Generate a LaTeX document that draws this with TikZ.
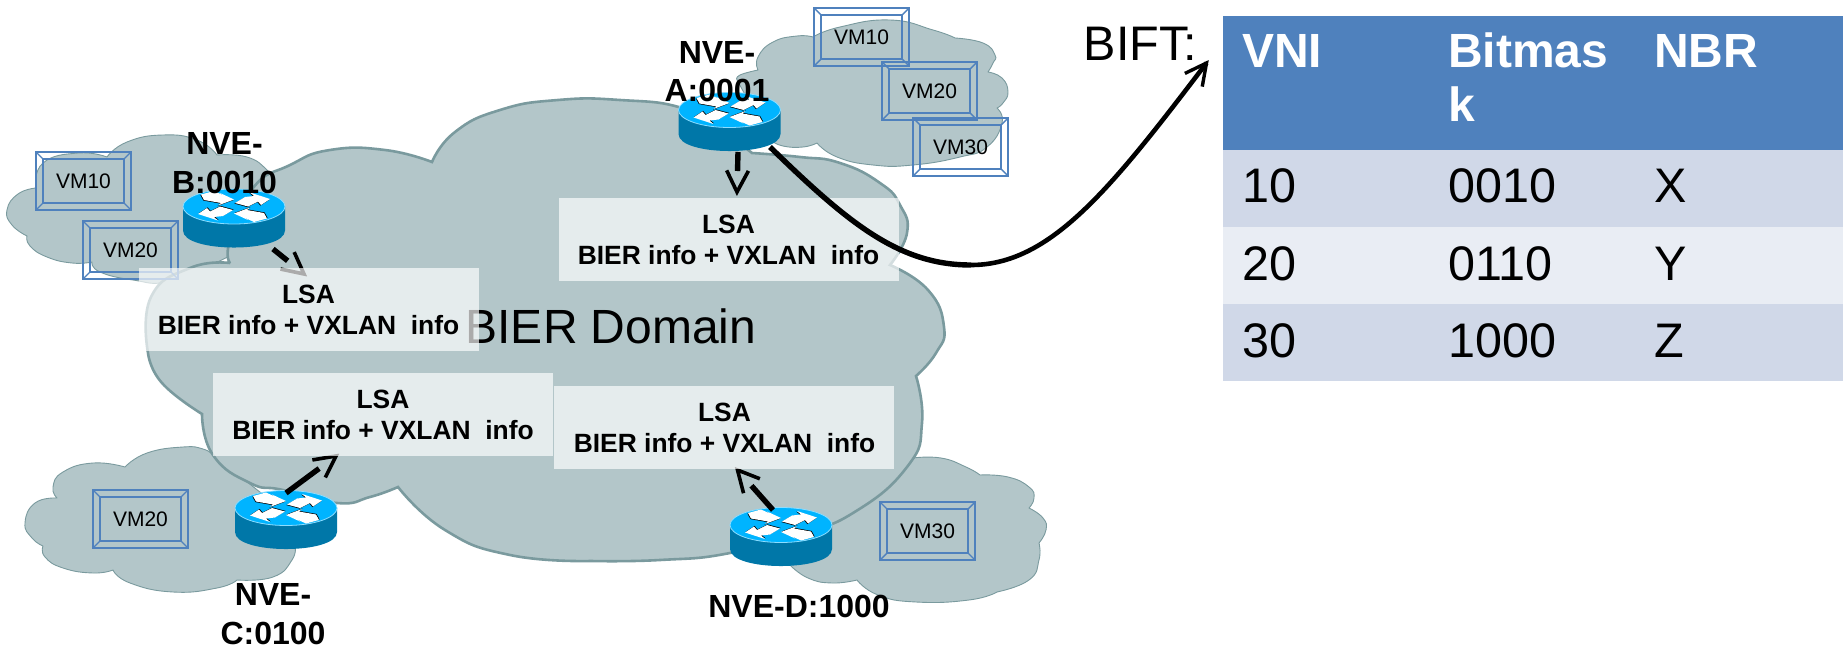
\documentclass[tikz,border=0pt]{standalone}
\usepackage{fontspec}
\setmainfont{Liberation Sans}
\usetikzlibrary{calc}
\definecolor{cloudfill}{HTML}{B3C6C9}
\definecolor{cloudline}{HTML}{7A9A9E}
\definecolor{vmline}{HTML}{4F81BD}
\definecolor{rtop}{HTML}{00B4FF}
\definecolor{rside}{HTML}{0077A8}
\definecolor{thead}{HTML}{4F81BD}
\definecolor{trowa}{HTML}{D0D8E8}
\definecolor{trowb}{HTML}{E9EDF4}
\newcommand\lsaarrow[2]{%
  \draw[shaftline,shorten >=21pt] (#1) -- (#2);
  \draw[headline] ($(#2)!24pt!27:(#1)$) -- (#2) -- ($(#2)!24pt!-27:(#1)$);}
\tikzset{
  lobe/.style={smooth,tension=.85},
  smallcloud/.style={fill=cloudfill,draw=cloudline,line width=.9pt,line join=round},
  bigcloud/.style={fill=cloudfill,draw=cloudline,line width=2.6pt,miter limit=2},
  vmtext/.style={font=\fontsize{21}{25}\selectfont,text=black,inner sep=0pt},
  lsabox/.style={fill=white,fill opacity=.67,text opacity=1,minimum width=340pt,minimum height=83pt,inner sep=0pt},
  lsatext/.style={font=\bfseries\fontsize{26.4}{31}\selectfont,align=center,anchor=base,inner sep=0pt},
  nvetext/.style={font=\bfseries\fontsize{32}{38.7}\selectfont,align=center,anchor=base,inner sep=0pt},
  shaftline/.style={line width=5.4pt},
  headline/.style={line width=3.6pt,miter limit=10},
  cell/.style={font=\fontsize{48.5}{54}\selectfont,anchor=base west,inner sep=0pt,align=left},
  hcell/.style={font=\bfseries\fontsize{48}{54}\selectfont,text=white,anchor=base west,inner sep=0pt,align=left},
  rowbox/.style={anchor=north west,minimum width=620pt,inner sep=0pt,fill=#1},
  router/.pic={
    \fill[rside] (-51,0) -- (-51,24) .. controls (-51,46.7) and (51,46.7) .. (51,24) -- (51,0) -- cycle;
    \fill[rtop,draw=white!55!rtop,line width=.8pt] (0,0) ellipse [x radius=51,y radius=17.5];
    \foreach \s in {1,-1}{
      \begin{scope}[xscale=\s,yscale=\s]
        \foreach \c/\o in {black/.6,white/0}{
          \fill[\c,shift={(-\o,\o)}] (-33,-12) -- (-20,-15.5) -- (-9,-10.5) -- (-14,-13.5) -- (0,-7) -- (-16,-1) -- (-13,-3.5) -- (-30,-6.5) -- cycle;
          \fill[\c,shift={(-\o,\o)}] (1,-3.5) -- (14,0) -- (24,-5) -- (27,-1.5) -- (36,-7.5) -- (16,-14) -- (20,-10.5) -- (11,-9.5) -- cycle;
        }
      \end{scope}
    }
  }
}
\begin{document}
\begin{tikzpicture}[x=1pt,y=-1pt]
\useasboundingbox (0,0) rectangle (1843,647);

% small clouds
\path[smallcloud] plot[lobe] coordinates {(36,188) (18,194) (7,210) (12,225) (27,236)}
  -- plot[lobe] coordinates {(27,236) (30,246) (47,257) (72,263) (92,262)}
  -- plot[lobe] coordinates {(92,262) (100,272) (133,280) (167,282) (207,267) (240,250)}
  -- (285,230)
  -- plot[lobe] coordinates {(272,180) (267,170) (247,157) (217,155)}
  -- plot[lobe] coordinates {(217,155) (197,140) (163,135) (127,142) (107,157)}
  -- plot[lobe] coordinates {(107,157) (78,153) (43,163) (36,188)} -- cycle;
\path[smallcloud] plot[lobe] coordinates {(737,80) (740,75) (758,70)}
  -- plot[lobe] coordinates {(758,70) (758,57) (773,42) (797,36) (813,37)}
  -- plot[lobe] coordinates {(813,37) (840,27) (890,20) (933,30) (955,38)}
  -- plot[lobe] coordinates {(955,38) (983,43) (995,55) (993,63) (988,72)}
  -- plot[lobe] coordinates {(988,72) (1002,78) (1008,92) (1003,103) (997,108)}
  -- plot[lobe] coordinates {(997,108) (1002,123) (987,147) (960,157) (913,165) (873,165) (837,157) (817,143)}
  -- plot[lobe] coordinates {(817,143) (803,147) (783,146) (770,140)} -- cycle;
\path[smallcloud] plot[lobe] coordinates {(57,498) (35,503) (25,523) (32,538) (43,546)}
  -- plot[lobe] coordinates {(43,546) (45,557) (63,568) (93,573) (113,570)}
  -- plot[lobe] coordinates {(113,570) (130,583) (173,592) (217,588) (237,580)}
  -- plot[lobe] coordinates {(237,580) (273,577) (292,560) (295,545)}
  -- (270,500) -- (213,455)
  -- plot[lobe] coordinates {(213,455) (203,449) (183,447) (147,453) (125,467)}
  -- plot[lobe] coordinates {(125,467) (93,463) (63,472) (53,487) (57,498)} -- cycle;
\path[smallcloud] plot[lobe] coordinates {(913,458) (941,458) (966,467) (980,475)}
  -- plot[lobe] coordinates {(980,475) (1008,477) (1029,487) (1034,498) (1029,508)}
  -- plot[lobe] coordinates {(1029,508) (1043,518) (1046,530) (1039,543)}
  -- plot[lobe] coordinates {(1039,543) (1039,560) (1029,580) (997,592)}
  -- plot[lobe] coordinates {(997,592) (969,600) (916,602) (878,595) (857,580)}
  -- plot[lobe] coordinates {(857,580) (832,583) (808,578) (790,565)}
  -- (800,520) -- cycle;

% big cloud
\path[bigcloud] plot[lobe] coordinates {(230,263) (230,240) (253,188) (290,165) (330,150) (385,150) (432,162)}
  -- plot[lobe] coordinates {(432,162) (455,132) (500,110) (558,100) (620,100) (682,108) (720,130) (752,153)}
  -- plot[lobe] coordinates {(752,153) (800,157) (840,163) (880,183) (900,205) (907,233) (890,265)}
  -- plot[lobe] coordinates {(890,265) (928,290) (944,327) (936,353) (916,376)}
  -- plot[lobe] coordinates {(916,376) (922,423) (907,467) (853,513) (800,533) (730,553) (660,560) (591,561)}
  -- plot[lobe] coordinates {(591,561) (510,555) (445,530) (398,487)}
  -- plot[lobe] coordinates {(398,487) (370,497) (337,503) (283,490) (250,483) (213,455) (202,414)}
  -- plot[lobe] coordinates {(202,414) (162,383) (148,353)}
  -- plot[lobe] coordinates {(148,353) (151,297) (190,268) (230,263)} -- cycle;

% VM boxes
\foreach \n/\x/\y/\t in {vma/36/152/VM10,vmb/83/221/VM20,vmc/814/8/VM10,vmd/882/62/VM20,vme/913/118/VM30,vmf/93/490/VM20,vmg/880/502/VM30}{
  \draw[vmline,line width=1.8pt] (\x,\y) rectangle ++(95,58);
  \draw[vmline,line width=1.8pt] (\x+7,\y+7) rectangle ++(81,44);
  \draw[vmline,line width=1.4pt] (\x,\y) -- ++(7,7) (\x+95,\y) -- ++(-7,7) (\x,\y+58) -- ++(7,-7) (\x+95,\y+58) -- ++(-7,-7);
  \node[vmtext] (\n) at (\x+47.5,\y+29.5) {\t};
}

% routers
\pic at (729.5,110) {router};
\pic at (234,206.5) {router};
\pic at (286,508) {router};
\pic at (781,525) {router};

% LSA arrows
\coordinate (sa) at (738,152); \coordinate (ta) at (737,192);
\coordinate (sb) at (273,249); \coordinate (tb) at (304,274);
\coordinate (sc) at (286,493); \coordinate (tc) at (336,456);
\coordinate (sd) at (773,510); \coordinate (td) at (737.5,470);
\lsaarrow{sa}{ta}
\lsaarrow{sb}{tb}
\lsaarrow{sc}{tc}
\lsaarrow{sd}{td}

% domain label
\node[font=\fontsize{48}{54}\selectfont,anchor=base,inner sep=0pt] (dom) at (611,343) {BIER Domain};

% LSA boxes
\node[lsabox,anchor=north west] (lsaa) at (558.5,198) {};
\node[lsabox,anchor=north west] (lsab) at (138.5,268) {};
\node[lsabox,anchor=north west] (lsac) at (213,373) {};
\node[lsabox,anchor=north west] (lsad) at (554,386) {};
\node[lsatext] (txa) at (728.5,264) {LSA\\BIER info + VXLAN~~info};
\node[lsatext] (txb) at (308.5,334.5) {LSA\\BIER info + VXLAN~~info};
\node[lsatext] (txc) at (383,439) {LSA\\BIER info + VXLAN~~info};
\node[lsatext] (txd) at (724.5,452) {LSA\\BIER info + VXLAN~~info};

% NVE labels
\node[nvetext] (nvea) at (717,102) {NVE-\\A:0001};
\node[nvetext] (nveb) at (224.5,193.5) {NVE-\\B:0010};
\node[nvetext] (nvec) at (273,644) {NVE-\\C:0100};
\node[nvetext] (nved) at (799,617) {NVE-D:1000};

% BIFT curve
\coordinate (cs) at (770,147);
\coordinate (cm) at (971,265);
\coordinate (cb) at (1110,190);
\coordinate (ce) at (1206.5,63);
\draw[line width=5.4pt] (cs) .. controls (850,225) and (900,265) .. (cm);
\draw[line width=4.6pt] (cm) .. controls (1050,265) and (cb) .. (ce);
\draw[line width=3.4pt,miter limit=10] ($(ce)!24pt!27:(cb)$) -- (ce) -- ($(ce)!24pt!-27:(cb)$);

% table
\node[font=\fontsize{48.5}{54}\selectfont,anchor=base west,inner sep=0pt] (bift) at (1083.5,61) {BIFT:};
\node[rowbox=thead,minimum height=134pt] (rh) at (1223,16) {};
\node[rowbox=trowa,minimum height=77pt] (r1) at (1223,150) {};
\node[rowbox=trowb,minimum height=77pt] (r2) at (1223,227) {};
\node[rowbox=trowa,minimum height=77pt] (r3) at (1223,304) {};
\node[hcell] (h1) at (1242,68) {VNI};
\node[hcell] (h2) at (1448,122) {Bitmas\\k};
\node[hcell] (h3) at (1654,68) {NBR};
\node[cell] (a1) at (1242,203) {10};
\node[cell] (a2) at (1448,203) {0010};
\node[cell] (a3) at (1654,203) {X};
\node[cell] (b1) at (1242,280) {20};
\node[cell] (b2) at (1448,280) {0110};
\node[cell] (b3) at (1654,280) {Y};
\node[cell] (c1) at (1242,357) {30};
\node[cell] (c2) at (1448,357) {1000};
\node[cell] (c3) at (1654,357) {Z};
\end{tikzpicture}
\end{document}
